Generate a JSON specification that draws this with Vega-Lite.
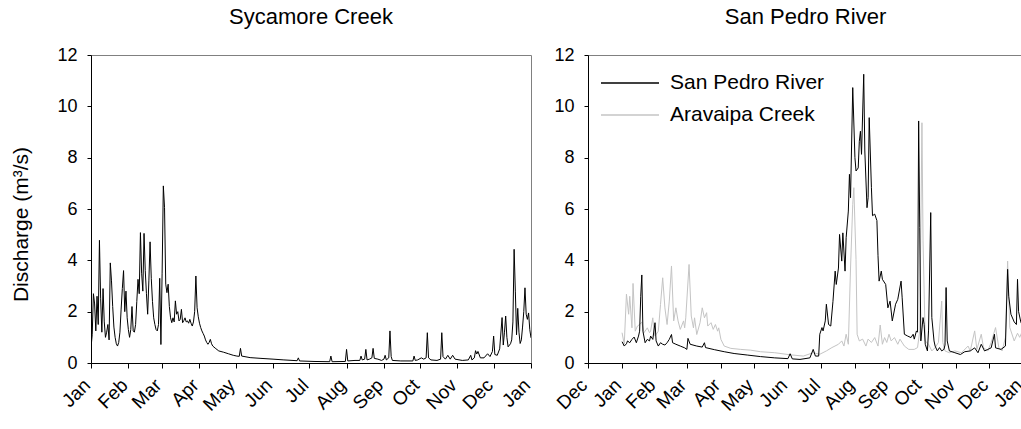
{
  "$schema": "https://vega.github.io/schema/vega-lite/v6.json",
  "background": "white",
  "padding": {"left": 10, "top": 5, "right": 0, "bottom": 0},
  "resolve": {"scale": {"color": "independent"}, "legend": {"color": "independent"}},
  "config": {
    "font": "Liberation Sans",
    "view": {"stroke": "#808080", "strokeWidth": 1},
    "axis": {
      "grid": false,
      "domainColor": "#000",
      "tickColor": "#000",
      "labelColor": "#000",
      "titleColor": "#000",
      "labelFontSize": 18,
      "titleFontWeight": "normal"
    },
    "axisX": {
      "format": "%b",
      "tickCount": "month",
      "labelAngle": -45,
      "labelAlign": "right",
      "labelBaseline": "alphabetic",
      "labelFontSize": 19,
      "labelOverlap": false,
      "labelFlush": false,
      "labelPadding": 18,
      "tickSize": 5,
      "title": null
    },
    "axisY": {
      "values": [0, 2, 4, 6, 8, 10, 12],
      "tickSize": 4,
      "labelPadding": 10,
      "titleFontSize": 21,
      "titlePadding": 25
    },
    "title": {"fontSize": 22, "fontWeight": "normal", "color": "#000", "offset": 17},
    "concat": {"spacing": 18}
  },
  "hconcat": [
    {
      "title": "Sycamore Creek",
      "width": 440,
      "height": 308,
      "data": {
        "values": [
          {"date": "2001-01-01", "q": 0.6}, {"date": "2001-01-02", "q": 1.1}, {"date": "2001-01-03", "q": 2.7},
          {"date": "2001-01-04", "q": 2.3}, {"date": "2001-01-05", "q": 1.25}, {"date": "2001-01-06", "q": 2.6},
          {"date": "2001-01-07", "q": 1.5}, {"date": "2001-01-08", "q": 4.78}, {"date": "2001-01-09", "q": 2.5},
          {"date": "2001-01-10", "q": 1.2}, {"date": "2001-01-11", "q": 2.9}, {"date": "2001-01-12", "q": 1.6},
          {"date": "2001-01-13", "q": 1.0}, {"date": "2001-01-14", "q": 1.2}, {"date": "2001-01-15", "q": 1.5},
          {"date": "2001-01-16", "q": 0.9}, {"date": "2001-01-17", "q": 3.9}, {"date": "2001-01-18", "q": 3.2},
          {"date": "2001-01-19", "q": 2.2}, {"date": "2001-01-20", "q": 1.4}, {"date": "2001-01-21", "q": 1.0},
          {"date": "2001-01-22", "q": 0.75}, {"date": "2001-01-23", "q": 0.66}, {"date": "2001-01-24", "q": 0.8},
          {"date": "2001-01-25", "q": 1.2}, {"date": "2001-01-26", "q": 2.1}, {"date": "2001-01-27", "q": 2.9},
          {"date": "2001-01-28", "q": 3.6}, {"date": "2001-01-29", "q": 2.0}, {"date": "2001-01-30", "q": 2.8},
          {"date": "2001-01-31", "q": 1.76}, {"date": "2001-02-01", "q": 1.3}, {"date": "2001-02-02", "q": 1.0},
          {"date": "2001-02-03", "q": 1.3}, {"date": "2001-02-04", "q": 2.2}, {"date": "2001-02-05", "q": 1.25},
          {"date": "2001-02-06", "q": 1.2}, {"date": "2001-02-07", "q": 1.5}, {"date": "2001-02-08", "q": 2.4},
          {"date": "2001-02-09", "q": 3.26}, {"date": "2001-02-10", "q": 2.7}, {"date": "2001-02-11", "q": 5.08},
          {"date": "2001-02-12", "q": 3.5}, {"date": "2001-02-13", "q": 2.8}, {"date": "2001-02-14", "q": 5.05},
          {"date": "2001-02-15", "q": 3.6}, {"date": "2001-02-16", "q": 2.7}, {"date": "2001-02-17", "q": 1.9},
          {"date": "2001-02-18", "q": 3.2}, {"date": "2001-02-19", "q": 4.72}, {"date": "2001-02-20", "q": 3.3},
          {"date": "2001-02-21", "q": 2.4}, {"date": "2001-02-22", "q": 1.76}, {"date": "2001-02-23", "q": 1.5},
          {"date": "2001-02-24", "q": 1.3}, {"date": "2001-02-25", "q": 1.25}, {"date": "2001-02-26", "q": 1.5},
          {"date": "2001-02-27", "q": 3.3}, {"date": "2001-02-28", "q": 0.72}, {"date": "2001-03-01", "q": 3.5},
          {"date": "2001-03-02", "q": 6.9}, {"date": "2001-03-03", "q": 6.05}, {"date": "2001-03-04", "q": 3.07},
          {"date": "2001-03-05", "q": 2.74}, {"date": "2001-03-06", "q": 3.07}, {"date": "2001-03-07", "q": 2.2},
          {"date": "2001-03-08", "q": 1.76}, {"date": "2001-03-09", "q": 1.57}, {"date": "2001-03-10", "q": 1.76},
          {"date": "2001-03-11", "q": 1.6}, {"date": "2001-03-12", "q": 2.42}, {"date": "2001-03-13", "q": 1.9},
          {"date": "2001-03-14", "q": 2.0}, {"date": "2001-03-15", "q": 1.64}, {"date": "2001-03-16", "q": 1.7},
          {"date": "2001-03-17", "q": 2.09}, {"date": "2001-03-18", "q": 1.57}, {"date": "2001-03-19", "q": 1.65},
          {"date": "2001-03-20", "q": 1.76}, {"date": "2001-03-21", "q": 1.6}, {"date": "2001-03-22", "q": 1.64},
          {"date": "2001-03-23", "q": 1.55}, {"date": "2001-03-24", "q": 1.7}, {"date": "2001-03-25", "q": 1.55},
          {"date": "2001-03-26", "q": 1.44}, {"date": "2001-03-27", "q": 1.6}, {"date": "2001-03-28", "q": 2.0},
          {"date": "2001-03-29", "q": 3.39}, {"date": "2001-03-30", "q": 2.15}, {"date": "2001-03-31", "q": 1.8},
          {"date": "2001-04-01", "q": 1.55}, {"date": "2001-04-02", "q": 1.38}, {"date": "2001-04-03", "q": 1.25},
          {"date": "2001-04-04", "q": 1.15}, {"date": "2001-04-05", "q": 1.05}, {"date": "2001-04-06", "q": 0.9},
          {"date": "2001-04-07", "q": 0.8}, {"date": "2001-04-08", "q": 0.73}, {"date": "2001-04-09", "q": 0.8},
          {"date": "2001-04-10", "q": 0.92}, {"date": "2001-04-11", "q": 0.75}, {"date": "2001-04-12", "q": 0.66},
          {"date": "2001-04-14", "q": 0.58}, {"date": "2001-04-17", "q": 0.47}, {"date": "2001-04-21", "q": 0.42},
          {"date": "2001-04-25", "q": 0.36}, {"date": "2001-04-29", "q": 0.3}, {"date": "2001-05-02", "q": 0.27},
          {"date": "2001-05-04", "q": 0.26}, {"date": "2001-05-05", "q": 0.57}, {"date": "2001-05-06", "q": 0.27},
          {"date": "2001-05-13", "q": 0.21}, {"date": "2001-05-22", "q": 0.18}, {"date": "2001-06-01", "q": 0.15},
          {"date": "2001-06-10", "q": 0.12}, {"date": "2001-06-21", "q": 0.09}, {"date": "2001-06-22", "q": 0.2},
          {"date": "2001-06-23", "q": 0.08}, {"date": "2001-07-05", "q": 0.06}, {"date": "2001-07-18", "q": 0.05},
          {"date": "2001-07-19", "q": 0.27}, {"date": "2001-07-20", "q": 0.05}, {"date": "2001-07-31", "q": 0.06},
          {"date": "2001-08-01", "q": 0.53}, {"date": "2001-08-02", "q": 0.08}, {"date": "2001-08-08", "q": 0.1},
          {"date": "2001-08-12", "q": 0.1}, {"date": "2001-08-13", "q": 0.27}, {"date": "2001-08-14", "q": 0.12},
          {"date": "2001-08-16", "q": 0.15}, {"date": "2001-08-17", "q": 0.53}, {"date": "2001-08-18", "q": 0.12},
          {"date": "2001-08-20", "q": 0.15}, {"date": "2001-08-22", "q": 0.2}, {"date": "2001-08-23", "q": 0.57},
          {"date": "2001-08-24", "q": 0.18}, {"date": "2001-08-27", "q": 0.15}, {"date": "2001-08-30", "q": 0.1},
          {"date": "2001-09-01", "q": 0.15}, {"date": "2001-09-02", "q": 0.3}, {"date": "2001-09-03", "q": 0.12},
          {"date": "2001-09-05", "q": 0.2}, {"date": "2001-09-06", "q": 1.25}, {"date": "2001-09-07", "q": 0.25},
          {"date": "2001-09-08", "q": 0.1}, {"date": "2001-09-15", "q": 0.08}, {"date": "2001-09-25", "q": 0.08},
          {"date": "2001-09-26", "q": 0.27}, {"date": "2001-09-27", "q": 0.1}, {"date": "2001-09-29", "q": 0.12},
          {"date": "2001-10-02", "q": 0.2}, {"date": "2001-10-04", "q": 0.15}, {"date": "2001-10-06", "q": 0.2},
          {"date": "2001-10-07", "q": 1.18}, {"date": "2001-10-08", "q": 0.2}, {"date": "2001-10-10", "q": 0.12},
          {"date": "2001-10-15", "q": 0.1}, {"date": "2001-10-18", "q": 0.15}, {"date": "2001-10-19", "q": 1.18},
          {"date": "2001-10-20", "q": 0.25}, {"date": "2001-10-22", "q": 0.15}, {"date": "2001-10-24", "q": 0.3},
          {"date": "2001-10-26", "q": 0.15}, {"date": "2001-10-28", "q": 0.3}, {"date": "2001-10-30", "q": 0.15},
          {"date": "2001-11-05", "q": 0.1}, {"date": "2001-11-10", "q": 0.12}, {"date": "2001-11-12", "q": 0.3},
          {"date": "2001-11-13", "q": 0.12}, {"date": "2001-11-15", "q": 0.2}, {"date": "2001-11-16", "q": 0.48},
          {"date": "2001-11-17", "q": 0.35}, {"date": "2001-11-18", "q": 0.45}, {"date": "2001-11-20", "q": 0.2},
          {"date": "2001-11-23", "q": 0.2}, {"date": "2001-11-26", "q": 0.36}, {"date": "2001-11-28", "q": 0.25},
          {"date": "2001-11-30", "q": 0.45}, {"date": "2001-12-01", "q": 1.05}, {"date": "2001-12-02", "q": 0.33},
          {"date": "2001-12-04", "q": 0.3}, {"date": "2001-12-06", "q": 0.55}, {"date": "2001-12-08", "q": 1.77},
          {"date": "2001-12-09", "q": 0.7}, {"date": "2001-12-10", "q": 1.2}, {"date": "2001-12-11", "q": 1.83},
          {"date": "2001-12-12", "q": 1.0}, {"date": "2001-12-13", "q": 0.63}, {"date": "2001-12-15", "q": 0.75},
          {"date": "2001-12-16", "q": 0.9}, {"date": "2001-12-17", "q": 1.6}, {"date": "2001-12-18", "q": 4.43},
          {"date": "2001-12-19", "q": 2.8}, {"date": "2001-12-20", "q": 1.1}, {"date": "2001-12-21", "q": 2.13},
          {"date": "2001-12-22", "q": 1.2}, {"date": "2001-12-23", "q": 0.76}, {"date": "2001-12-24", "q": 0.9},
          {"date": "2001-12-25", "q": 1.4}, {"date": "2001-12-26", "q": 2.0}, {"date": "2001-12-27", "q": 2.93},
          {"date": "2001-12-28", "q": 1.9}, {"date": "2001-12-29", "q": 1.7}, {"date": "2001-12-30", "q": 1.95},
          {"date": "2001-12-31", "q": 1.3}, {"date": "2002-01-01", "q": 0.98}
        ]
      },
      "mark": {"type": "line", "color": "#000", "strokeWidth": 1, "clip": true},
      "encoding": {
        "x": {
          "field": "date",
          "type": "temporal",
          "scale": {"domain": [{"year": 2001, "month": 1, "date": 1}, {"year": 2002, "month": 1, "date": 1}]}
        },
        "y": {
          "field": "q",
          "type": "quantitative",
          "scale": {"domain": [0, 12]},
          "axis": {"title": "Discharge (m³/s)", "titleY": 169}
        }
      }
    },
    {
      "title": "San Pedro River",
      "width": 435,
      "height": 308,
      "data": {
        "values": [
          {"river": "Aravaipa Creek", "date": "2001-01-01", "q": 1.18}, {"river": "Aravaipa Creek", "date": "2001-01-03", "q": 0.73},
          {"river": "Aravaipa Creek", "date": "2001-01-05", "q": 2.68}, {"river": "Aravaipa Creek", "date": "2001-01-07", "q": 1.9},
          {"river": "Aravaipa Creek", "date": "2001-01-08", "q": 2.6}, {"river": "Aravaipa Creek", "date": "2001-01-10", "q": 1.37},
          {"river": "Aravaipa Creek", "date": "2001-01-11", "q": 3.1}, {"river": "Aravaipa Creek", "date": "2001-01-13", "q": 1.24},
          {"river": "Aravaipa Creek", "date": "2001-01-15", "q": 1.44}, {"river": "Aravaipa Creek", "date": "2001-01-17", "q": 1.5},
          {"river": "Aravaipa Creek", "date": "2001-01-19", "q": 1.6}, {"river": "Aravaipa Creek", "date": "2001-01-21", "q": 1.18},
          {"river": "Aravaipa Creek", "date": "2001-01-24", "q": 1.37}, {"river": "Aravaipa Creek", "date": "2001-01-26", "q": 1.18},
          {"river": "Aravaipa Creek", "date": "2001-01-27", "q": 1.24}, {"river": "Aravaipa Creek", "date": "2001-01-29", "q": 1.76},
          {"river": "Aravaipa Creek", "date": "2001-01-30", "q": 1.24}, {"river": "Aravaipa Creek", "date": "2001-01-31", "q": 1.05},
          {"river": "Aravaipa Creek", "date": "2001-02-03", "q": 1.24}, {"river": "Aravaipa Creek", "date": "2001-02-05", "q": 2.28},
          {"river": "Aravaipa Creek", "date": "2001-02-07", "q": 3.32}, {"river": "Aravaipa Creek", "date": "2001-02-09", "q": 2.15},
          {"river": "Aravaipa Creek", "date": "2001-02-11", "q": 1.5}, {"river": "Aravaipa Creek", "date": "2001-02-13", "q": 2.41},
          {"river": "Aravaipa Creek", "date": "2001-02-15", "q": 3.78}, {"river": "Aravaipa Creek", "date": "2001-02-17", "q": 1.64},
          {"river": "Aravaipa Creek", "date": "2001-02-19", "q": 2.15}, {"river": "Aravaipa Creek", "date": "2001-02-21", "q": 1.64},
          {"river": "Aravaipa Creek", "date": "2001-02-23", "q": 1.31}, {"river": "Aravaipa Creek", "date": "2001-02-26", "q": 1.64},
          {"river": "Aravaipa Creek", "date": "2001-02-27", "q": 1.37}, {"river": "Aravaipa Creek", "date": "2001-02-28", "q": 1.76},
          {"river": "Aravaipa Creek", "date": "2001-03-03", "q": 3.84}, {"river": "Aravaipa Creek", "date": "2001-03-05", "q": 1.83},
          {"river": "Aravaipa Creek", "date": "2001-03-07", "q": 1.37}, {"river": "Aravaipa Creek", "date": "2001-03-08", "q": 1.76},
          {"river": "Aravaipa Creek", "date": "2001-03-10", "q": 1.11}, {"river": "Aravaipa Creek", "date": "2001-03-13", "q": 1.57},
          {"river": "Aravaipa Creek", "date": "2001-03-15", "q": 2.15}, {"river": "Aravaipa Creek", "date": "2001-03-17", "q": 1.76},
          {"river": "Aravaipa Creek", "date": "2001-03-19", "q": 1.96}, {"river": "Aravaipa Creek", "date": "2001-03-20", "q": 1.44},
          {"river": "Aravaipa Creek", "date": "2001-03-23", "q": 1.57}, {"river": "Aravaipa Creek", "date": "2001-03-25", "q": 1.31},
          {"river": "Aravaipa Creek", "date": "2001-03-27", "q": 1.5}, {"river": "Aravaipa Creek", "date": "2001-03-29", "q": 1.24},
          {"river": "Aravaipa Creek", "date": "2001-03-30", "q": 1.37}, {"river": "Aravaipa Creek", "date": "2001-04-01", "q": 0.92},
          {"river": "Aravaipa Creek", "date": "2001-04-04", "q": 0.66}, {"river": "Aravaipa Creek", "date": "2001-04-10", "q": 0.57},
          {"river": "Aravaipa Creek", "date": "2001-04-19", "q": 0.53}, {"river": "Aravaipa Creek", "date": "2001-04-28", "q": 0.5},
          {"river": "Aravaipa Creek", "date": "2001-05-07", "q": 0.44}, {"river": "Aravaipa Creek", "date": "2001-05-20", "q": 0.4},
          {"river": "Aravaipa Creek", "date": "2001-06-03", "q": 0.32}, {"river": "Aravaipa Creek", "date": "2001-06-15", "q": 0.27},
          {"river": "Aravaipa Creek", "date": "2001-06-24", "q": 0.4}, {"river": "Aravaipa Creek", "date": "2001-06-30", "q": 0.34},
          {"river": "Aravaipa Creek", "date": "2001-07-06", "q": 0.47}, {"river": "Aravaipa Creek", "date": "2001-07-11", "q": 0.6},
          {"river": "Aravaipa Creek", "date": "2001-07-17", "q": 0.73}, {"river": "Aravaipa Creek", "date": "2001-07-20", "q": 0.86},
          {"river": "Aravaipa Creek", "date": "2001-07-22", "q": 0.66}, {"river": "Aravaipa Creek", "date": "2001-07-24", "q": 1.12},
          {"river": "Aravaipa Creek", "date": "2001-07-26", "q": 0.73}, {"river": "Aravaipa Creek", "date": "2001-07-28", "q": 3.7},
          {"river": "Aravaipa Creek", "date": "2001-07-30", "q": 6.18}, {"river": "Aravaipa Creek", "date": "2001-07-31", "q": 6.83},
          {"river": "Aravaipa Creek", "date": "2001-08-02", "q": 4.03}, {"river": "Aravaipa Creek", "date": "2001-08-03", "q": 1.12},
          {"river": "Aravaipa Creek", "date": "2001-08-05", "q": 0.86}, {"river": "Aravaipa Creek", "date": "2001-08-08", "q": 0.93},
          {"river": "Aravaipa Creek", "date": "2001-08-11", "q": 0.66}, {"river": "Aravaipa Creek", "date": "2001-08-13", "q": 0.93},
          {"river": "Aravaipa Creek", "date": "2001-08-16", "q": 0.8}, {"river": "Aravaipa Creek", "date": "2001-08-19", "q": 0.99},
          {"river": "Aravaipa Creek", "date": "2001-08-22", "q": 0.66}, {"river": "Aravaipa Creek", "date": "2001-08-24", "q": 1.48},
          {"river": "Aravaipa Creek", "date": "2001-08-26", "q": 0.73}, {"river": "Aravaipa Creek", "date": "2001-08-28", "q": 0.99},
          {"river": "Aravaipa Creek", "date": "2001-08-30", "q": 0.8}, {"river": "Aravaipa Creek", "date": "2001-09-01", "q": 1.12},
          {"river": "Aravaipa Creek", "date": "2001-09-03", "q": 0.86}, {"river": "Aravaipa Creek", "date": "2001-09-06", "q": 0.99},
          {"river": "Aravaipa Creek", "date": "2001-09-09", "q": 0.73}, {"river": "Aravaipa Creek", "date": "2001-09-11", "q": 0.93},
          {"river": "Aravaipa Creek", "date": "2001-09-15", "q": 0.66}, {"river": "Aravaipa Creek", "date": "2001-09-19", "q": 0.53},
          {"river": "Aravaipa Creek", "date": "2001-09-24", "q": 0.53}, {"river": "Aravaipa Creek", "date": "2001-09-27", "q": 0.6},
          {"river": "Aravaipa Creek", "date": "2001-09-29", "q": 1.25}, {"river": "Aravaipa Creek", "date": "2001-10-01", "q": 9.36},
          {"river": "Aravaipa Creek", "date": "2001-10-02", "q": 4.76}, {"river": "Aravaipa Creek", "date": "2001-10-04", "q": 0.86},
          {"river": "Aravaipa Creek", "date": "2001-10-07", "q": 0.73}, {"river": "Aravaipa Creek", "date": "2001-10-10", "q": 0.47},
          {"river": "Aravaipa Creek", "date": "2001-10-13", "q": 0.6}, {"river": "Aravaipa Creek", "date": "2001-10-16", "q": 0.8},
          {"river": "Aravaipa Creek", "date": "2001-10-19", "q": 2.41}, {"river": "Aravaipa Creek", "date": "2001-10-20", "q": 0.8},
          {"river": "Aravaipa Creek", "date": "2001-10-22", "q": 0.47}, {"river": "Aravaipa Creek", "date": "2001-10-26", "q": 0.4},
          {"river": "Aravaipa Creek", "date": "2001-10-31", "q": 0.47}, {"river": "Aravaipa Creek", "date": "2001-11-06", "q": 0.4},
          {"river": "Aravaipa Creek", "date": "2001-11-12", "q": 0.66}, {"river": "Aravaipa Creek", "date": "2001-11-14", "q": 0.47},
          {"river": "Aravaipa Creek", "date": "2001-11-18", "q": 1.25}, {"river": "Aravaipa Creek", "date": "2001-11-20", "q": 0.53},
          {"river": "Aravaipa Creek", "date": "2001-11-24", "q": 1.12}, {"river": "Aravaipa Creek", "date": "2001-11-26", "q": 0.6},
          {"river": "Aravaipa Creek", "date": "2001-11-30", "q": 0.47}, {"river": "Aravaipa Creek", "date": "2001-12-03", "q": 0.8},
          {"river": "Aravaipa Creek", "date": "2001-12-07", "q": 1.38}, {"river": "Aravaipa Creek", "date": "2001-12-10", "q": 0.6},
          {"river": "Aravaipa Creek", "date": "2001-12-13", "q": 0.47}, {"river": "Aravaipa Creek", "date": "2001-12-16", "q": 0.99},
          {"river": "Aravaipa Creek", "date": "2001-12-18", "q": 3.97}, {"river": "Aravaipa Creek", "date": "2001-12-20", "q": 1.38},
          {"river": "Aravaipa Creek", "date": "2001-12-24", "q": 0.86}, {"river": "Aravaipa Creek", "date": "2001-12-27", "q": 1.16},
          {"river": "Aravaipa Creek", "date": "2001-12-29", "q": 1.0}, {"river": "Aravaipa Creek", "date": "2001-12-31", "q": 1.2},

          {"river": "San Pedro River", "date": "2001-01-01", "q": 0.83}, {"river": "San Pedro River", "date": "2001-01-03", "q": 0.66},
          {"river": "San Pedro River", "date": "2001-01-05", "q": 0.75}, {"river": "San Pedro River", "date": "2001-01-06", "q": 0.86},
          {"river": "San Pedro River", "date": "2001-01-08", "q": 0.79}, {"river": "San Pedro River", "date": "2001-01-10", "q": 0.92},
          {"river": "San Pedro River", "date": "2001-01-12", "q": 1.01}, {"river": "San Pedro River", "date": "2001-01-14", "q": 0.79},
          {"river": "San Pedro River", "date": "2001-01-16", "q": 1.05}, {"river": "San Pedro River", "date": "2001-01-17", "q": 1.24},
          {"river": "San Pedro River", "date": "2001-01-18", "q": 2.6}, {"river": "San Pedro River", "date": "2001-01-19", "q": 3.43},
          {"river": "San Pedro River", "date": "2001-01-20", "q": 1.24}, {"river": "San Pedro River", "date": "2001-01-22", "q": 0.79},
          {"river": "San Pedro River", "date": "2001-01-24", "q": 0.92}, {"river": "San Pedro River", "date": "2001-01-26", "q": 0.86},
          {"river": "San Pedro River", "date": "2001-01-27", "q": 1.05}, {"river": "San Pedro River", "date": "2001-01-29", "q": 0.92},
          {"river": "San Pedro River", "date": "2001-01-31", "q": 1.57}, {"river": "San Pedro River", "date": "2001-02-01", "q": 0.86},
          {"river": "San Pedro River", "date": "2001-02-03", "q": 0.66}, {"river": "San Pedro River", "date": "2001-02-05", "q": 0.79},
          {"river": "San Pedro River", "date": "2001-02-07", "q": 0.73}, {"river": "San Pedro River", "date": "2001-02-09", "q": 0.7},
          {"river": "San Pedro River", "date": "2001-02-11", "q": 0.79}, {"river": "San Pedro River", "date": "2001-02-13", "q": 0.92},
          {"river": "San Pedro River", "date": "2001-02-15", "q": 1.11}, {"river": "San Pedro River", "date": "2001-02-16", "q": 0.79},
          {"river": "San Pedro River", "date": "2001-02-19", "q": 0.73}, {"river": "San Pedro River", "date": "2001-02-23", "q": 0.66},
          {"river": "San Pedro River", "date": "2001-02-27", "q": 0.59}, {"river": "San Pedro River", "date": "2001-03-01", "q": 0.53},
          {"river": "San Pedro River", "date": "2001-03-02", "q": 0.96}, {"river": "San Pedro River", "date": "2001-03-04", "q": 0.73},
          {"river": "San Pedro River", "date": "2001-03-10", "q": 0.66}, {"river": "San Pedro River", "date": "2001-03-15", "q": 0.62},
          {"river": "San Pedro River", "date": "2001-03-17", "q": 0.79}, {"river": "San Pedro River", "date": "2001-03-18", "q": 0.6},
          {"river": "San Pedro River", "date": "2001-03-26", "q": 0.52}, {"river": "San Pedro River", "date": "2001-04-04", "q": 0.44},
          {"river": "San Pedro River", "date": "2001-04-13", "q": 0.37}, {"river": "San Pedro River", "date": "2001-04-25", "q": 0.31},
          {"river": "San Pedro River", "date": "2001-05-07", "q": 0.25}, {"river": "San Pedro River", "date": "2001-05-20", "q": 0.2},
          {"river": "San Pedro River", "date": "2001-06-01", "q": 0.17}, {"river": "San Pedro River", "date": "2001-06-03", "q": 0.36},
          {"river": "San Pedro River", "date": "2001-06-05", "q": 0.16}, {"river": "San Pedro River", "date": "2001-06-12", "q": 0.14},
          {"river": "San Pedro River", "date": "2001-06-21", "q": 0.2}, {"river": "San Pedro River", "date": "2001-06-24", "q": 0.53},
          {"river": "San Pedro River", "date": "2001-06-26", "q": 0.27}, {"river": "San Pedro River", "date": "2001-06-29", "q": 0.27},
          {"river": "San Pedro River", "date": "2001-06-30", "q": 1.12}, {"river": "San Pedro River", "date": "2001-07-02", "q": 1.38},
          {"river": "San Pedro River", "date": "2001-07-03", "q": 1.25}, {"river": "San Pedro River", "date": "2001-07-05", "q": 1.64},
          {"river": "San Pedro River", "date": "2001-07-06", "q": 2.29}, {"river": "San Pedro River", "date": "2001-07-08", "q": 1.5},
          {"river": "San Pedro River", "date": "2001-07-10", "q": 1.44}, {"river": "San Pedro River", "date": "2001-07-12", "q": 2.4},
          {"river": "San Pedro River", "date": "2001-07-14", "q": 3.58}, {"river": "San Pedro River", "date": "2001-07-15", "q": 3.06},
          {"river": "San Pedro River", "date": "2001-07-17", "q": 3.7}, {"river": "San Pedro River", "date": "2001-07-18", "q": 5.01},
          {"river": "San Pedro River", "date": "2001-07-20", "q": 3.97}, {"river": "San Pedro River", "date": "2001-07-21", "q": 5.07},
          {"river": "San Pedro River", "date": "2001-07-23", "q": 3.58}, {"river": "San Pedro River", "date": "2001-07-24", "q": 4.88},
          {"river": "San Pedro River", "date": "2001-07-26", "q": 5.92}, {"river": "San Pedro River", "date": "2001-07-27", "q": 7.35},
          {"river": "San Pedro River", "date": "2001-07-28", "q": 6.44}, {"river": "San Pedro River", "date": "2001-07-30", "q": 10.73},
          {"river": "San Pedro River", "date": "2001-08-01", "q": 8.0}, {"river": "San Pedro River", "date": "2001-08-02", "q": 7.48},
          {"river": "San Pedro River", "date": "2001-08-04", "q": 7.6}, {"river": "San Pedro River", "date": "2001-08-05", "q": 8.64},
          {"river": "San Pedro River", "date": "2001-08-06", "q": 9.03}, {"river": "San Pedro River", "date": "2001-08-07", "q": 8.13},
          {"river": "San Pedro River", "date": "2001-08-09", "q": 11.25}, {"river": "San Pedro River", "date": "2001-08-10", "q": 8.26},
          {"river": "San Pedro River", "date": "2001-08-12", "q": 6.05}, {"river": "San Pedro River", "date": "2001-08-13", "q": 6.44},
          {"river": "San Pedro River", "date": "2001-08-14", "q": 9.56}, {"river": "San Pedro River", "date": "2001-08-16", "q": 6.83},
          {"river": "San Pedro River", "date": "2001-08-17", "q": 5.74}, {"river": "San Pedro River", "date": "2001-08-19", "q": 5.8},
          {"river": "San Pedro River", "date": "2001-08-21", "q": 5.55}, {"river": "San Pedro River", "date": "2001-08-22", "q": 4.18},
          {"river": "San Pedro River", "date": "2001-08-23", "q": 3.19}, {"river": "San Pedro River", "date": "2001-08-25", "q": 3.58},
          {"river": "San Pedro River", "date": "2001-08-26", "q": 3.26}, {"river": "San Pedro River", "date": "2001-08-29", "q": 3.06},
          {"river": "San Pedro River", "date": "2001-08-31", "q": 2.15}, {"river": "San Pedro River", "date": "2001-09-02", "q": 2.41},
          {"river": "San Pedro River", "date": "2001-09-04", "q": 1.64}, {"river": "San Pedro River", "date": "2001-09-07", "q": 2.29},
          {"river": "San Pedro River", "date": "2001-09-09", "q": 2.48}, {"river": "San Pedro River", "date": "2001-09-12", "q": 3.19},
          {"river": "San Pedro River", "date": "2001-09-13", "q": 2.54}, {"river": "San Pedro River", "date": "2001-09-15", "q": 1.12},
          {"river": "San Pedro River", "date": "2001-09-18", "q": 1.05}, {"river": "San Pedro River", "date": "2001-09-21", "q": 0.99},
          {"river": "San Pedro River", "date": "2001-09-23", "q": 1.12}, {"river": "San Pedro River", "date": "2001-09-24", "q": 0.93},
          {"river": "San Pedro River", "date": "2001-09-26", "q": 1.25}, {"river": "San Pedro River", "date": "2001-09-27", "q": 1.2},
          {"river": "San Pedro River", "date": "2001-09-28", "q": 9.43}, {"river": "San Pedro River", "date": "2001-09-29", "q": 5.27},
          {"river": "San Pedro River", "date": "2001-09-30", "q": 0.86}, {"river": "San Pedro River", "date": "2001-10-02", "q": 1.77},
          {"river": "San Pedro River", "date": "2001-10-03", "q": 1.5}, {"river": "San Pedro River", "date": "2001-10-04", "q": 0.73},
          {"river": "San Pedro River", "date": "2001-10-06", "q": 0.47}, {"river": "San Pedro River", "date": "2001-10-07", "q": 1.25},
          {"river": "San Pedro River", "date": "2001-10-09", "q": 5.86}, {"river": "San Pedro River", "date": "2001-10-10", "q": 1.77},
          {"river": "San Pedro River", "date": "2001-10-12", "q": 0.86}, {"river": "San Pedro River", "date": "2001-10-13", "q": 0.66},
          {"river": "San Pedro River", "date": "2001-10-15", "q": 0.47}, {"river": "San Pedro River", "date": "2001-10-17", "q": 0.6},
          {"river": "San Pedro River", "date": "2001-10-19", "q": 0.47}, {"river": "San Pedro River", "date": "2001-10-21", "q": 0.53},
          {"river": "San Pedro River", "date": "2001-10-22", "q": 0.7}, {"river": "San Pedro River", "date": "2001-10-23", "q": 2.94},
          {"river": "San Pedro River", "date": "2001-10-24", "q": 0.86}, {"river": "San Pedro River", "date": "2001-10-26", "q": 0.47},
          {"river": "San Pedro River", "date": "2001-10-31", "q": 0.4}, {"river": "San Pedro River", "date": "2001-11-05", "q": 0.33},
          {"river": "San Pedro River", "date": "2001-11-09", "q": 0.44}, {"river": "San Pedro River", "date": "2001-11-14", "q": 0.47},
          {"river": "San Pedro River", "date": "2001-11-18", "q": 0.59}, {"river": "San Pedro River", "date": "2001-11-21", "q": 0.4},
          {"river": "San Pedro River", "date": "2001-11-24", "q": 0.73}, {"river": "San Pedro River", "date": "2001-11-27", "q": 0.47},
          {"river": "San Pedro River", "date": "2001-11-30", "q": 0.53}, {"river": "San Pedro River", "date": "2001-12-03", "q": 0.59},
          {"river": "San Pedro River", "date": "2001-12-06", "q": 1.12}, {"river": "San Pedro River", "date": "2001-12-07", "q": 0.59},
          {"river": "San Pedro River", "date": "2001-12-12", "q": 0.53}, {"river": "San Pedro River", "date": "2001-12-16", "q": 0.66},
          {"river": "San Pedro River", "date": "2001-12-18", "q": 3.65}, {"river": "San Pedro River", "date": "2001-12-19", "q": 2.6},
          {"river": "San Pedro River", "date": "2001-12-21", "q": 1.9}, {"river": "San Pedro River", "date": "2001-12-24", "q": 1.6},
          {"river": "San Pedro River", "date": "2001-12-26", "q": 1.5}, {"river": "San Pedro River", "date": "2001-12-27", "q": 3.26},
          {"river": "San Pedro River", "date": "2001-12-28", "q": 2.0}, {"river": "San Pedro River", "date": "2001-12-30", "q": 1.6},
          {"river": "San Pedro River", "date": "2001-12-31", "q": 1.5}
        ]
      },
      "encoding": {
        "x": {
          "field": "date",
          "type": "temporal",
          "scale": {"domain": [{"year": 2000, "month": 12, "date": 1}, {"year": 2002, "month": 1, "date": 1}]}
        },
        "y": {
          "field": "q",
          "type": "quantitative",
          "scale": {"domain": [0, 12]},
          "axis": {"title": null}
        },
        "color": {
          "field": "river",
          "type": "nominal",
          "scale": {"domain": ["San Pedro River", "Aravaipa Creek"], "range": ["#000000", "#c4c4c4"]},
          "legend": {
            "title": null,
            "orient": "top-left",
            "offset": 8,
            "padding": 4,
            "clipHeight": 32,
            "symbolType": "stroke",
            "symbolSize": 3364,
            "symbolStrokeWidth": 1.5,
            "labelFontSize": 21,
            "labelColor": "#000",
            "labelOffset": 10,
            "rowPadding": -1
          }
        }
      },
      "layer": [
        {
          "transform": [{"filter": "datum.river === 'Aravaipa Creek'"}],
          "mark": {"type": "line", "strokeWidth": 1, "clip": true}
        },
        {
          "transform": [{"filter": "datum.river === 'San Pedro River'"}],
          "mark": {"type": "line", "strokeWidth": 1, "clip": true}
        }
      ]
    }
  ]
}
